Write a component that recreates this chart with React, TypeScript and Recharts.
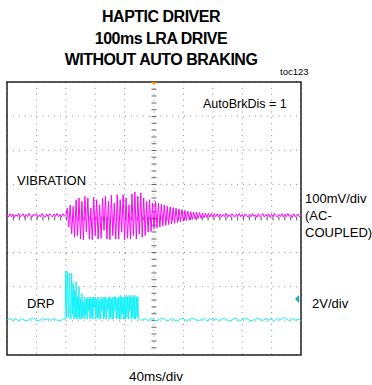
import {
  LineChart,
  Line,
  XAxis,
  YAxis,
  CartesianGrid,
  ReferenceLine,
  ReferenceArea,
  ReferenceDot,
} from 'recharts';

// scope: 40ms/div over 10 divisions, 8 vertical divisions
const timeTicks = [0, 40, 80, 120, 160, 200, 240, 280, 320, 360, 400];
const divTicks = [-4, -3, -2, -1, 0, 1, 2, 3, 4];

// VIBRATION trace (divisions, 100mV/div), one sample every 2ms
const vibStep = 2;
const vibValues = [
  0.12, 0.04, 0.14, 0.05, 0.13, 0.03, 0.11, 0.06, 0.15, 0.04,
  0.1, 0.14, 0.03, 0.12, 0.05, 0.15, 0.07, 0.04, 0.13, 0.08,
  0.14, 0.04, 0.11, 0.05, 0.15, 0.06, 0.03, 0.13, 0.05, 0.14,
  0.09, 0.04, 0.13, 0.06, 0.15, 0.05, 0.12, 0.04, 0.14, 0.07,
  // drive starts ~80ms
  0.08, 0.3, -0.25, 0.4, -0.45, 0.35, -0.55, 0.55, -0.5, 0.6,
  -0.6, 0.5, -0.62, 0.65, -0.4, 0.6, -0.6, 0.3, -0.62, 0.62,
  -0.5, 0.55, -0.6, 0.4, -0.58, 0.6, -0.35, 0.65, -0.6, 0.5,
  -0.62, 0.68, -0.5, 0.45, -0.6, 0.7, -0.6, 0.55, -0.4, 0.7,
  -0.62, 0.6, -0.58, 0.4, -0.6, 0.72, -0.5, 0.78, -0.6, 0.65,
  -0.45, 0.75, -0.55, 0.6, -0.5, 0.5, -0.4, 0.55, -0.38, 0.45,
  // decay, no braking
  -0.3, 0.5, -0.28, 0.45, -0.25, 0.42, -0.22, 0.4, -0.2, 0.36,
  -0.18, 0.34, -0.16, 0.32, -0.14, 0.3, -0.12, 0.28, -0.1, 0.26,
  -0.08, 0.24, -0.06, 0.22, -0.04, 0.2, -0.03, 0.19, -0.02, 0.18,
  0.0, 0.17, 0.01, 0.16, 0.02,
  0.16, 0.03, 0.15, 0.04, 0.15, 0.04, 0.14, 0.05, 0.14, 0.04,
  0.13, 0.04, 0.12, 0.06, 0.15, 0.03, 0.11, 0.05, 0.14, 0.07,
  0.04, 0.13, 0.06, 0.15, 0.05, 0.12, 0.03, 0.14, 0.08, 0.04,
  0.13, 0.05, 0.15, 0.06, 0.11, 0.03, 0.14, 0.05, 0.09, 0.15,
  0.04, 0.12, 0.06, 0.14, 0.03, 0.13, 0.05, 0.15, 0.08, 0.04,
  0.12, 0.06, 0.14, 0.04, 0.13, 0.05, 0.15, 0.06, 0.11, 0.03,
  0.14, 0.05, 0.1, 0.13, 0.04, 0.12,
];

// DRP trace (divisions, 2V/div)
const drpPre = [
  -2.97, -2.93, -2.99, -2.94, -3.0, -2.93, -2.98, -2.99, -2.94, -2.92,
  -2.98, -3.0, -2.93, -2.97, -2.94, -2.99, -2.93, -2.98, -3.0, -2.94,
]; // 0..76ms, every 4ms
const drpBurst = [
  -2.97, -2.96, -1.55, -2.9, -1.55, -2.2, -2.9, -1.6, -2.5, -2.95,
  -1.6, -2.8, -1.9, -2.95, -2.1, -2.9, -1.85, -2.95, -2.3, -2.9,
  -2.0, -2.95, -2.35, -2.95, -2.2, -2.9, -2.45, -2.95, -2.3, -2.85,
  -2.35, -2.95, -2.3, -2.7, -2.35, -2.95, -2.3, -2.9, -2.35, -2.95,
  -2.3, -2.6, -2.3, -2.95, -2.35, -2.9, -2.3, -2.95, -2.4, -2.95,
  -2.3, -2.7, -2.35, -2.95, -2.3, -2.9, -2.3, -2.95, -2.35, -2.65,
  -2.3, -2.95, -2.3, -2.9, -2.35, -2.95, -2.3, -2.95, -2.3, -2.7,
  -2.3, -2.95, -2.35, -2.9, -2.3, -2.95, -2.25, -2.95, -2.3, -2.8,
  -2.3, -2.95, -2.3, -2.95, -2.25, -2.9, -2.3, -2.95, -2.25, -2.7,
  -2.3, -2.95, -2.25, -2.9, -2.3, -2.95, -2.25, -2.95, -2.3, -2.9,
  -2.28, -2.95, -2.97, -2.98, -2.96, -2.98, -2.97,
]; // 78..184ms, every 1ms
const drpPost = [
  -2.94, -2.99, -2.93, -2.98, -3.0, -2.94, -2.92, -2.98, -2.99, -2.93,
  -2.98, -3.0, -2.94, -2.93, -2.99, -2.97, -2.92, -2.95, -2.99, -2.97,
  -2.93, -3.0, -2.94, -2.98, -2.93, -2.99, -2.95, -2.92, -2.98, -3.0,
  -2.94, -2.93, -2.99, -2.97, -2.93, -2.95, -3.0, -2.97, -2.92, -2.95,
  -2.99, -2.93, -2.98, -2.95, -3.0, -2.93, -2.97, -2.9, -2.95, -2.99,
  -2.93, -2.98, -2.95, -2.99,
]; // 188..400ms, every 4ms

const vibData = vibValues.map((v, i) => ({ t: i * vibStep, v }));
const drpData = [
  ...drpPre.map((d, i) => ({ t: i * 4, d })),
  ...drpBurst.map((d, i) => ({ t: 78 + i, d })),
  ...drpPost.map((d, i) => ({ t: 188 + i * 4, d })),
];

const font = '"Liberation Sans", Arial, sans-serif';

const leftTriangle = (props: any) => {
  const { cx, cy } = props;
  return <polygon points={`${cx - 3},${cy} ${cx + 1},${cy - 4} ${cx + 1},${cy + 4}`} fill="#1aa8a8" />;
};

const downTriangle = (props: any) => {
  const { cx, cy } = props;
  return <polygon points={`${cx - 3},${cy} ${cx + 3},${cy} ${cx},${cy + 3}`} fill="#ff8800" />;
};

export default function App() {
  return (
    <div style={{ position: 'absolute', left: 0, top: 0, width: 372, height: 385, background: '#fff' }}>
      <LineChart width={372} height={385} margin={{ top: 82, right: 71, bottom: 30, left: 7 }}>
        <XAxis dataKey="t" type="number" domain={[0, 400]} ticks={timeTicks} hide allowDuplicatedCategory={false} />
        <YAxis type="number" domain={[-4, 4]} ticks={divTicks} hide />
        <CartesianGrid stroke="#8a8a8a" strokeDasharray="1 4.9" />
        <ReferenceLine x={200} stroke="#666" strokeWidth={5} strokeDasharray="1 5.8" />
        <ReferenceLine y={0} stroke="#666" strokeWidth={4} strokeDasharray="1 4.9" />
        <ReferenceArea x1={0} x2={400} y1={-4} y2={4} fill="none" stroke="#222" strokeWidth={1.5} />
        <Line
          data={vibData}
          dataKey="v"
          type="linear"
          stroke="#ff00ff"
          strokeWidth={1}
          dot={false}
          isAnimationActive={false}
        />
        <Line
          data={drpData}
          dataKey="d"
          type="linear"
          stroke="#00f0f8"
          strokeWidth={0.9}
          dot={false}
          isAnimationActive={false}
        />
        <ReferenceDot x={200} y={4} r={3} shape={downTriangle} />
        <ReferenceDot x={396} y={-2.36} r={3} shape={leftTriangle} />
      </LineChart>
      <svg
        width={372}
        height={385}
        style={{ position: 'absolute', left: 0, top: 0, pointerEvents: 'none' }}
        fontFamily={font}
      >
        <g fontWeight="bold" fontSize={16} textAnchor="middle" letterSpacing={-0.5} fill="#000">
          <text x={161} y={22}>HAPTIC DRIVER</text>
          <text x={161} y={44}>100ms LRA DRIVE</text>
          <text x={161} y={65}>WITHOUT AUTO BRAKING</text>
        </g>
        <text x={280} y={75} fontSize={9.5}>toc123</text>
        <text x={203} y={108} fontSize={12.5}>AutoBrkDis = 1</text>
        <text x={17} y={185} fontSize={13}>VIBRATION</text>
        <text x={27} y={308} fontSize={13}>DRP</text>
        <text x={305} y={203} fontSize={13}>100mV/div</text>
        <text x={305} y={220} fontSize={13}>(AC-</text>
        <text x={305} y={237} fontSize={13}>COUPLED)</text>
        <text x={312} y={308} fontSize={13}>2V/div</text>
        <text x={129} y={381} fontSize={13.5}>40ms/div</text>
      </svg>
    </div>
  );
}
